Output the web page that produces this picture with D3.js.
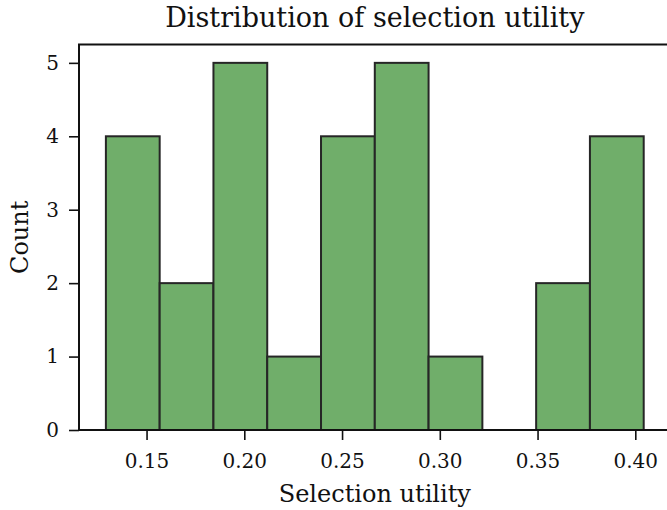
<!DOCTYPE html>
<html><head><meta charset="utf-8">
<script src="https://cdn.jsdelivr.net/npm/d3@7"></script>
<style>body{margin:0;background:#fff}svg{display:block}text{font-family:"DejaVu Serif",serif;fill:#111}</style>
</head><body><svg id="c" width="667" height="510"></svg>
<script>
const binStart = 0.1292;
const binWidth = 0.02751;
const counts = [4, 2, 5, 1, 4, 5, 1, 0, 2, 4];
const xTicks = [0.15, 0.20, 0.25, 0.30, 0.35, 0.40];
const yTicks = [0, 1, 2, 3, 4, 5];
const title = "Distribution of selection utility";
const xLabel = "Selection utility";
const yLabel = "Count";

const bins = counts.map((c, i) => ({x0: binStart + i * binWidth, x1: binStart + (i + 1) * binWidth, c}));
const lo = bins[0].x0, hi = bins[bins.length - 1].x1, m = (hi - lo) * 0.05;

const svg = d3.select("#c");
const L = 79, R = 670.6, T = 44.5, B = 430;
const x = d3.scaleLinear().domain([lo - m, hi + m]).range([L, R]);
const y = d3.scaleLinear().domain([0, 5.25]).range([B, T]);

svg.append("g").selectAll("rect").data(bins).join("rect")
  .attr("x", d => x(d.x0)).attr("width", d => x(d.x1) - x(d.x0))
  .attr("y", d => y(d.c)).attr("height", d => y(0) - y(d.c))
  .attr("fill", "#70ae6a").attr("stroke", "#262626").attr("stroke-width", 2);

const xa = svg.append("g").attr("transform", `translate(0,${B})`)
  .call(d3.axisBottom(x).tickValues(xTicks).tickFormat(d3.format(".2f")).tickSize(10).tickPadding(13.5));
const ya = svg.append("g").attr("transform", `translate(${L},0)`)
  .call(d3.axisLeft(y).tickValues(yTicks).tickFormat(d3.format("d")).tickSize(10).tickPadding(10));
[xa, ya].forEach(a => {
  a.select(".domain").remove();
  a.selectAll(".tick line").attr("stroke", "#111").attr("stroke-width", 1.6);
  a.selectAll(".tick text").style("font-family", "DejaVu Serif").style("font-size", "20px").attr("fill", "#111");
});
// frame
svg.append("rect").attr("x", L).attr("y", T).attr("width", R - L).attr("height", B - T)
  .attr("fill", "none").attr("stroke", "#111").attr("stroke-width", 2);

svg.append("text").attr("x", (L + R) / 2).attr("y", 26.5).attr("text-anchor", "middle")
  .style("font-size", "27px").text(title);
svg.append("text").attr("x", (L + R) / 2).attr("y", 502).attr("text-anchor", "middle")
  .style("font-size", "24px").text(xLabel);
svg.append("text").attr("transform", `translate(28,${(T + B) / 2}) rotate(-90)`).attr("text-anchor", "middle")
  .style("font-size", "24px").text(yLabel);
</script></body></html>
